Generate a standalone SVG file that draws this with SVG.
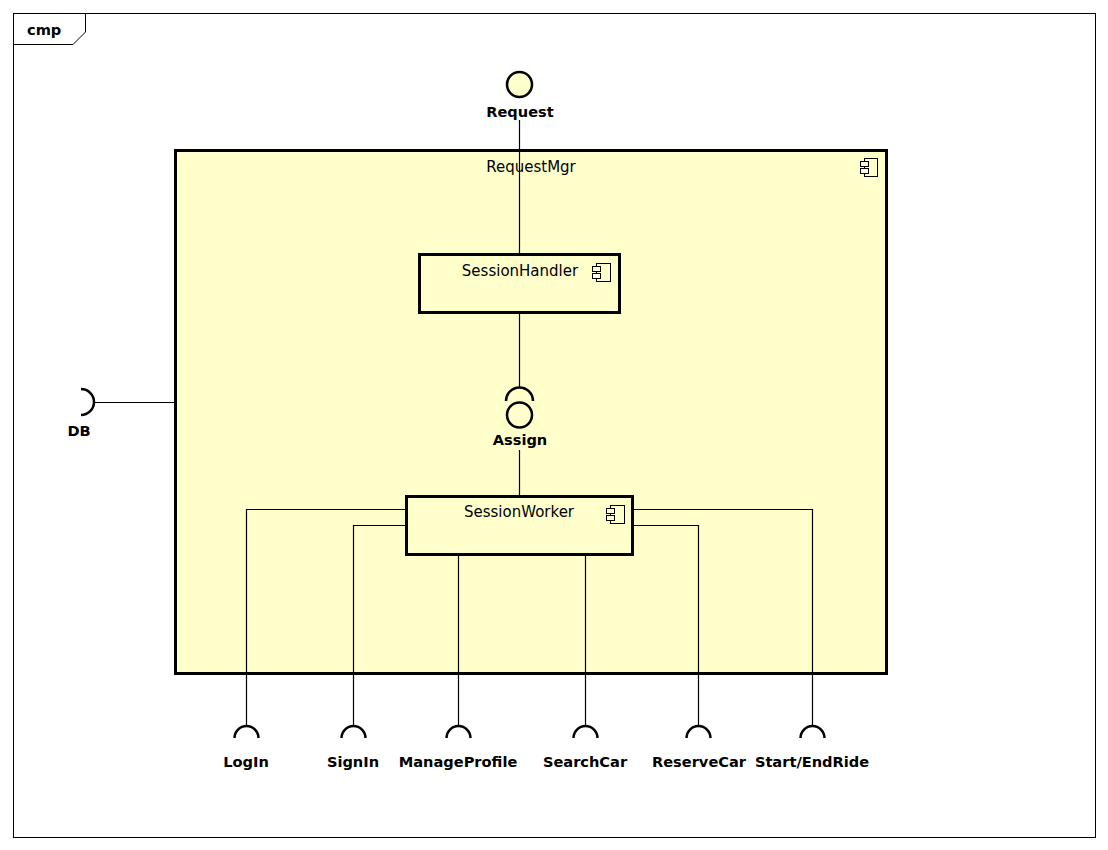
<svg xmlns="http://www.w3.org/2000/svg" width="1108" height="850" viewBox="0 0 1108 850">
<style>
.frame{fill:none;stroke:#000;stroke-width:1}
.comp{fill:#FFFFCC;stroke:#000;stroke-width:3}
.icon{fill:none;stroke:#000;stroke-width:1}
.line{fill:none;stroke:#000;stroke-width:1.2}
.iface{fill:#FFFFCC;stroke:#000;stroke-width:2.5}
.sock{fill:none;stroke:#000;stroke-width:2.5}
.lbl{font-family:"DejaVu Sans","Liberation Sans",sans-serif;font-size:15px;fill:#000}
.blbl{font-family:"DejaVu Sans","Liberation Sans",sans-serif;font-size:14.6px;font-weight:bold;fill:#000}
</style>
<rect width="1108" height="850" fill="#fff"/>
<g id="frame">
<rect class="frame" x="13.5" y="13.5" width="1082" height="824"/>
<path class="frame" d="M13.5 44.5 H73 L85.5 32 V13.5"/>
<text class="blbl" x="27" y="35">cmp</text>
</g>
<g id="RequestMgr">
<rect class="comp" x="175.5" y="150.5" width="711" height="523"/>
<text class="lbl" x="531" y="172" text-anchor="middle">RequestMgr</text>
<g class="icon"><rect x="864.5" y="158.5" width="13" height="18" fill="none"/><rect x="860.5" y="161.5" width="8" height="5" fill="#FFFFCC"/><rect x="860.5" y="168.5" width="8" height="5" fill="#FFFFCC"/></g>
</g>
<g id="connectors">
<line class="line" x1="519.5" y1="120" x2="519.5" y2="254"/>
<line class="line" x1="519.5" y1="313" x2="519.5" y2="388"/>
<line class="line" x1="519.5" y1="450" x2="519.5" y2="496"/>
<line class="line" x1="93" y1="402.5" x2="175" y2="402.5"/>
<polyline class="line" points="406,509.5 246.5,509.5 246.5,725"/>
<polyline class="line" points="406,525.5 353.5,525.5 353.5,725"/>
<line class="line" x1="458.5" y1="555" x2="458.5" y2="725"/>
<line class="line" x1="585.5" y1="555" x2="585.5" y2="725"/>
<polyline class="line" points="632,525.5 698.5,525.5 698.5,725"/>
<polyline class="line" points="632,509.5 812.5,509.5 812.5,725"/>
</g>
<g id="SessionHandler">
<rect class="comp" x="419.5" y="254.5" width="200" height="58"/>
<text class="lbl" x="520" y="276" text-anchor="middle">SessionHandler</text>
<g class="icon"><rect x="596.5" y="263.5" width="14" height="18" fill="none"/><rect x="592.5" y="266.5" width="8" height="5" fill="#FFFFCC"/><rect x="592.5" y="273.5" width="8" height="5" fill="#FFFFCC"/></g>
</g>
<g id="SessionWorker">
<rect class="comp" x="406.5" y="496.5" width="226" height="58"/>
<text class="lbl" x="519" y="517" text-anchor="middle">SessionWorker</text>
<g class="icon"><rect x="610.5" y="505.5" width="14" height="18" fill="none"/><rect x="606.5" y="508.5" width="8" height="5" fill="#FFFFCC"/><rect x="606.5" y="515.5" width="8" height="5" fill="#FFFFCC"/></g>
</g>
<g id="Request">
<circle class="iface" cx="519.5" cy="84.5" r="12.5"/>
<text class="blbl" x="520" y="117" text-anchor="middle">Request</text>
</g>
<g id="Assign">
<path class="sock" d="M506 401 A13.5 13.5 0 0 1 533 401"/>
<circle class="iface" cx="519.5" cy="415" r="12.5"/>
<text class="blbl" x="520" y="445" text-anchor="middle">Assign</text>
</g>
<g id="DB">
<path class="sock" d="M81 389 A13 13 0 0 1 81 415"/>
<text class="blbl" x="79" y="436" text-anchor="middle">DB</text>
</g>
<g id="LogIn"><path class="sock" d="M234.5 738 A12 12 0 0 1 258.5 738"/><text class="blbl" x="246" y="767" text-anchor="middle">LogIn</text></g>
<g id="SignIn"><path class="sock" d="M341.5 738 A12 12 0 0 1 365.5 738"/><text class="blbl" x="353" y="767" text-anchor="middle">SignIn</text></g>
<g id="ManageProfile"><path class="sock" d="M446.5 738 A12 12 0 0 1 470.5 738"/><text class="blbl" x="458" y="767" text-anchor="middle">ManageProfile</text></g>
<g id="SearchCar"><path class="sock" d="M573.5 738 A12 12 0 0 1 597.5 738"/><text class="blbl" x="585" y="767" text-anchor="middle">SearchCar</text></g>
<g id="ReserveCar"><path class="sock" d="M686.5 738 A12 12 0 0 1 710.5 738"/><text class="blbl" x="699" y="767" text-anchor="middle">ReserveCar</text></g>
<g id="StartEndRide"><path class="sock" d="M800.5 738 A12 12 0 0 1 824.5 738"/><text class="blbl" x="812" y="767" text-anchor="middle">Start/EndRide</text></g>
</svg>
